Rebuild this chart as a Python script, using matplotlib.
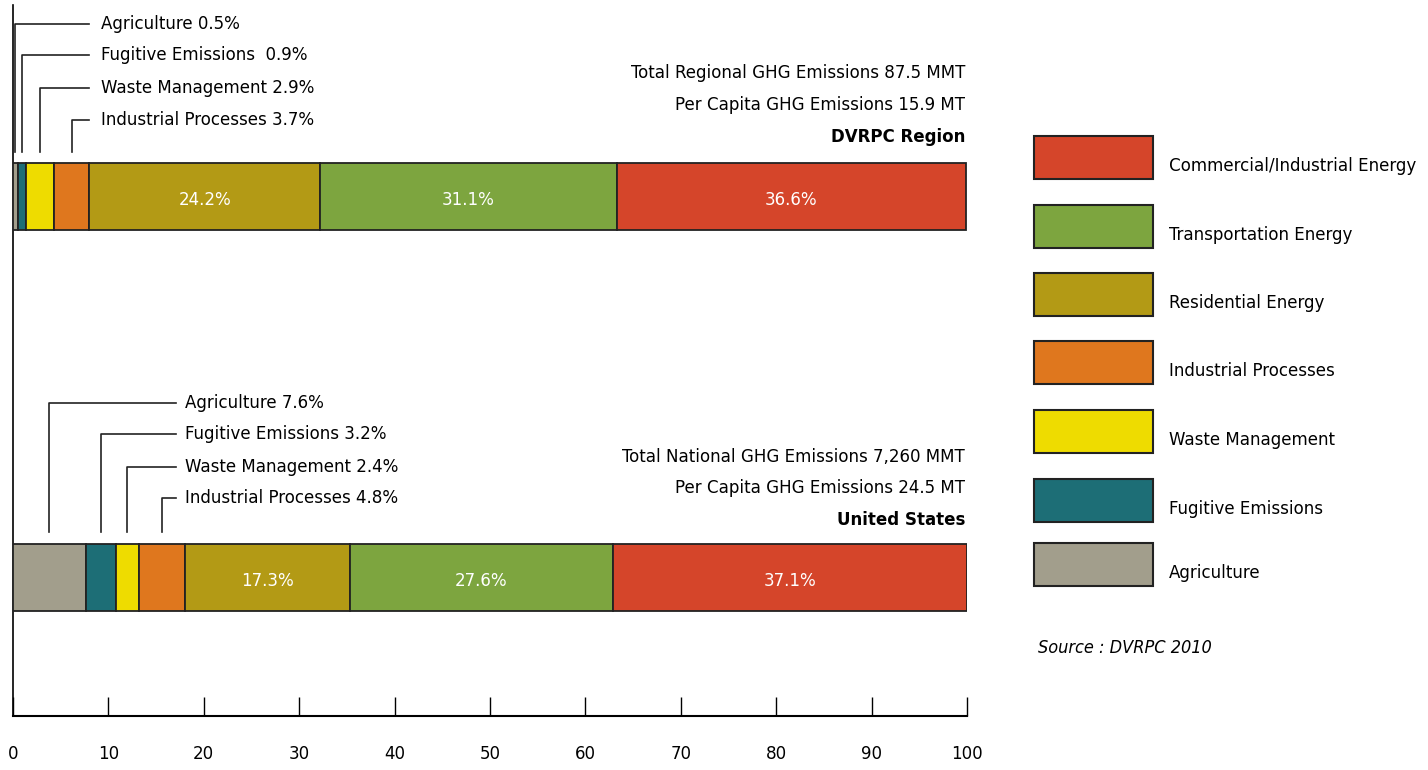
import numpy as np
import matplotlib.pyplot as plt
from matplotlib.patches import Rectangle

plt.rcParams['font.family'] = ['DejaVu Sans']
plt.rcParams['font.stretch'] = 'condensed'

# data
categories = ['Agriculture', 'Fugitive Emissions', 'Waste Management', 'Industrial Processes',
              'Residential Energy', 'Transportation Energy', 'Commercial/Industrial Energy']
colors = ['#A29E8C', '#1D6E76', '#EEDC00', '#DF771E', '#B39A15', '#7DA53F', '#D5452A']
dvrpc = [0.5, 0.9, 2.9, 3.7, 24.2, 31.1, 36.6]
usa = [7.6, 3.2, 2.4, 4.8, 17.3, 27.6, 37.1]
dvrpc_callouts = ['Agriculture 0.5%', 'Fugitive Emissions  0.9%', 'Waste Management 2.9%', 'Industrial Processes 3.7%']
usa_callouts = ['Agriculture 7.6%', 'Fugitive Emissions 3.2%', 'Waste Management 2.4%', 'Industrial Processes 4.8%']
dvrpc_info = ['Total Regional GHG Emissions 87.5 MMT', 'Per Capita GHG Emissions 15.9 MT', 'DVRPC Region']
usa_info = ['Total National GHG Emissions 7,260 MMT', 'Per Capita GHG Emissions 24.5 MT', 'United States']
xticks = list(range(0, 101, 10))

W, H = 1428, 770
fig = plt.figure(figsize=(W / 100, H / 100), dpi=100)
ax = fig.add_axes([13 / W, 54 / H, 954 / W, 711 / H])

bar_h = 67 / 381
ypos = [1, 0]  # DVRPC on top, US below
fs = 13.3

def px_y(py):
    # pixel row -> data y
    return (716 - py) / 381 - 0.3635

for y, vals in zip(ypos, [dvrpc, usa]):
    left = np.concatenate([[0], np.cumsum(vals)[:-1]])
    ax.barh([y] * len(vals), vals, left=left, height=bar_h, color=colors,
            edgecolor='#222222', linewidth=1.3, zorder=3)
    for i in (4, 5, 6):
        ax.text(left[i] + vals[i] / 2, y - 0.01, f'{vals[i]}%', color='white',
                ha='center', va='center', fontsize=fs)

# callouts
def callouts(vals, labels, rows, xend, xtext, ybot):
    left = np.concatenate([[0], np.cumsum(vals)[:-1]])
    for i, (lab, row) in enumerate(zip(labels, rows)):
        xc = left[i] + vals[i] / 2
        yr = px_y(row)
        ax.plot([xc, xc, xend], [px_y(ybot), yr, yr], color='#222222', lw=1.2,
                clip_on=False, zorder=4)
        ax.text(xtext, yr, lab, ha='left', va='center', fontsize=fs)

callouts(dvrpc, dvrpc_callouts, [24, 55, 88, 120], (89 - 13) / 9.54, (101 - 13) / 9.54, 152)
callouts(usa, usa_callouts, [403, 434, 467, 498], (176 - 13) / 9.54, (185 - 13) / 9.54, 532)

for info, rows in [(dvrpc_info, [73, 105, 137]), (usa_info, [457, 488, 520])]:
    for j, (t, row) in enumerate(zip(info, rows)):
        ax.text(99.8, px_y(row), t, ha='right', va='center', fontsize=fs,
                fontweight='bold' if j == 2 else 'normal')

ax.set_xlim(0, 100)
ax.set_ylim(-0.3635, 1.503)
ax.set_xticks(xticks)
ax.set_yticks([])
ax.tick_params(axis='x', direction='in', length=14, width=1, pad=21, labelsize=fs)
for s in ('top', 'right'):
    ax.spines[s].set_visible(False)
ax.spines['left'].set_linewidth(1.2)
ax.spines['bottom'].set_linewidth(1.5)

# legend
lax = fig.add_axes([0, 0, 1, 1], facecolor='none')
lax.set_xlim(0, W)
lax.set_ylim(H, 0)
lax.axis('off')
tops = [136, 205, 273, 341, 410, 479, 543]
for k, top in enumerate(tops):
    c = len(categories) - 1 - k
    lax.add_patch(Rectangle((1034, top), 119, 43, facecolor=colors[c],
                            edgecolor='#222222', linewidth=1.5))
    lax.text(1169, top + 30, categories[c], ha='left', va='center', fontsize=fs)
lax.text(1038, 648, 'Source : DVRPC 2010', ha='left', va='center', fontsize=13, style='italic')

fig.savefig('out.png', dpi=100)
